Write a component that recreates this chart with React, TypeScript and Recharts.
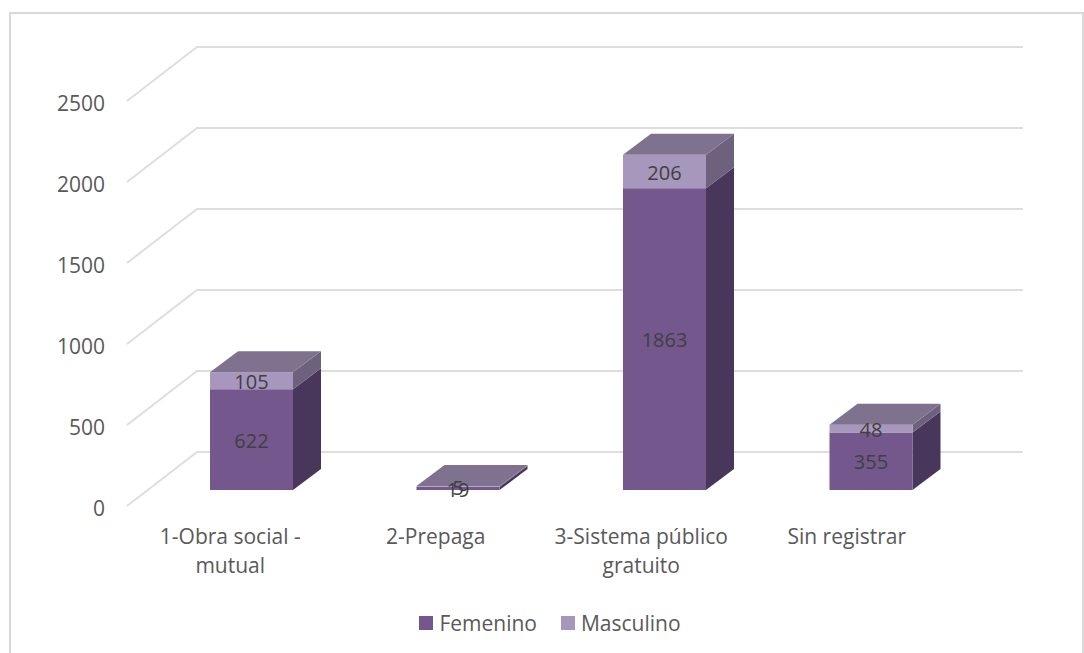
import React from 'react';
import { BarChart, Bar, XAxis, YAxis, Legend, LabelList, CartesianGrid } from 'recharts';

const categories = ['1-Obra social - mutual', '2-Prepaga', '3-Sistema público gratuito', 'Sin registrar'];
const categoryLines = [['1-Obra social -', 'mutual'], ['2-Prepaga'], ['3-Sistema público', 'gratuito'], ['Sin registrar']];
const femenino = [622, 19, 1863, 355];
const masculino = [105, 5, 206, 48];
const yTicks = [0, 500, 1000, 1500, 2000, 2500];

const data = categories.map((name, i) => ({ name, femenino: femenino[i], masculino: masculino[i] }));

const FONT = '"Open Sans", sans-serif';
const TEXT = '#595959';
const GRID = '#dedede';
// fake 3D: how far the box goes back, and where the walls sit against the bar plane
const DEPTH_X = 28;
const DEPTH_Y = 21;

const Box = (props: any) => {
  const { x, y, width, height, fill, side, top } = props;
  const r = x + width;
  const b = y + height;
  return (
    <g>
      <path d={`M${r} ${y}L${r + DEPTH_X} ${y - DEPTH_Y}L${r + DEPTH_X} ${b - DEPTH_Y}L${r} ${b}Z`} fill={side} />
      <rect x={x} y={y} width={width} height={height} fill={fill} />
      {top && <path d={`M${x} ${y}L${x + DEPTH_X} ${y - DEPTH_Y}L${r + DEPTH_X} ${y - DEPTH_Y}L${r} ${y}Z`} fill={top} />}
    </g>
  );
};

// floor diagonal + back wall line for every y tick
const GridLine = (props: any) => {
  const { x1, x2, y1 } = props;
  return (
    <path
      d={`M${x1 - 21} ${y1 + 16}L${x1 + 49} ${y1 - 38}L${x2 + 49} ${y1 - 38}`}
      fill="none"
      stroke={GRID}
      strokeWidth={2}
    />
  );
};

const ValueTick = (props: any) => {
  const { x, y, payload } = props;
  return (
    <text x={x - 43} y={y + 26} textAnchor="end" fontSize={21} fontFamily={FONT} fill={TEXT}>
      {payload.value}
    </text>
  );
};

const CategoryTick = (props: any) => {
  const { x, y, index } = props;
  return (
    <text textAnchor="middle" fontSize={21} fontFamily={FONT} fill={TEXT}>
      {categoryLines[index].map((line, i) => (
        <tspan key={line} x={x - 21 - index} y={y + 54 + i * 29}>{line}</tspan>
      ))}
    </text>
  );
};

const LegendRow = (props: any) => (
  <div style={{ display: 'flex', justifyContent: 'center', gap: 24, fontFamily: FONT, fontSize: 21, color: TEXT }}>
    {props.payload.map((item: any) => (
      <span key={item.value} style={{ display: 'flex', alignItems: 'center', gap: 6 }}>
        <span style={{ width: 14, height: 14, background: item.color }} />
        {item.value}
      </span>
    ))}
  </div>
);

const labelStyle = { fontFamily: FONT, fontSize: 20, fill: '#404040' };

export default function App() {
  return (
    <div style={{ position: 'absolute', left: 0, top: 0, width: 1084, height: 653, overflow: 'hidden', background: '#fff' }}>
      <div style={{ position: 'absolute', left: 9, top: 12, width: 1075, height: 700, border: '2px solid #d9d9d9', boxSizing: 'border-box' }} />
      <BarChart
        width={1084}
        height={653}
        data={data}
        margin={{ top: 85, right: 110, bottom: 103, left: 0 }}
        barSize={83}
        style={{ position: 'absolute', left: 0, top: 0 }}
      >
        <CartesianGrid vertical={false} horizontal={(p: any) => <GridLine key={p.index} {...p} />} />
        <YAxis
          type="number"
          domain={[0, 2500]}
          ticks={yTicks}
          width={148}
          axisLine={false}
          tickLine={false}
          tickSize={0}
          tickMargin={0}
          tick={<ValueTick />}
          interval={0}
        />
        <XAxis dataKey="name" height={60} axisLine={false} tickLine={false} tickSize={0} tickMargin={0} tick={<CategoryTick />} interval={0} />
        <Legend
          layout="horizontal"
          verticalAlign="middle"
          wrapperStyle={{ left: 8, top: 609, width: 1084 }}
          content={<LegendRow />}
        />
        <Bar
          dataKey="femenino"
          name="Femenino"
          stackId="a"
          fill="#74578d"
          isAnimationActive={false}
          shape={(p: any) => <Box {...p} side="#49375b" />}
        >
          <LabelList dataKey="femenino" position="center" style={labelStyle} dy={1} />
        </Bar>
        <Bar
          dataKey="masculino"
          name="Masculino"
          stackId="a"
          fill="#a897bd"
          isAnimationActive={false}
          shape={(p: any) => <Box {...p} side="#6d617e" top="#7f728f" />}
        >
          <LabelList dataKey="masculino" position="center" style={labelStyle} dy={1} />
        </Bar>
      </BarChart>
    </div>
  );
}
